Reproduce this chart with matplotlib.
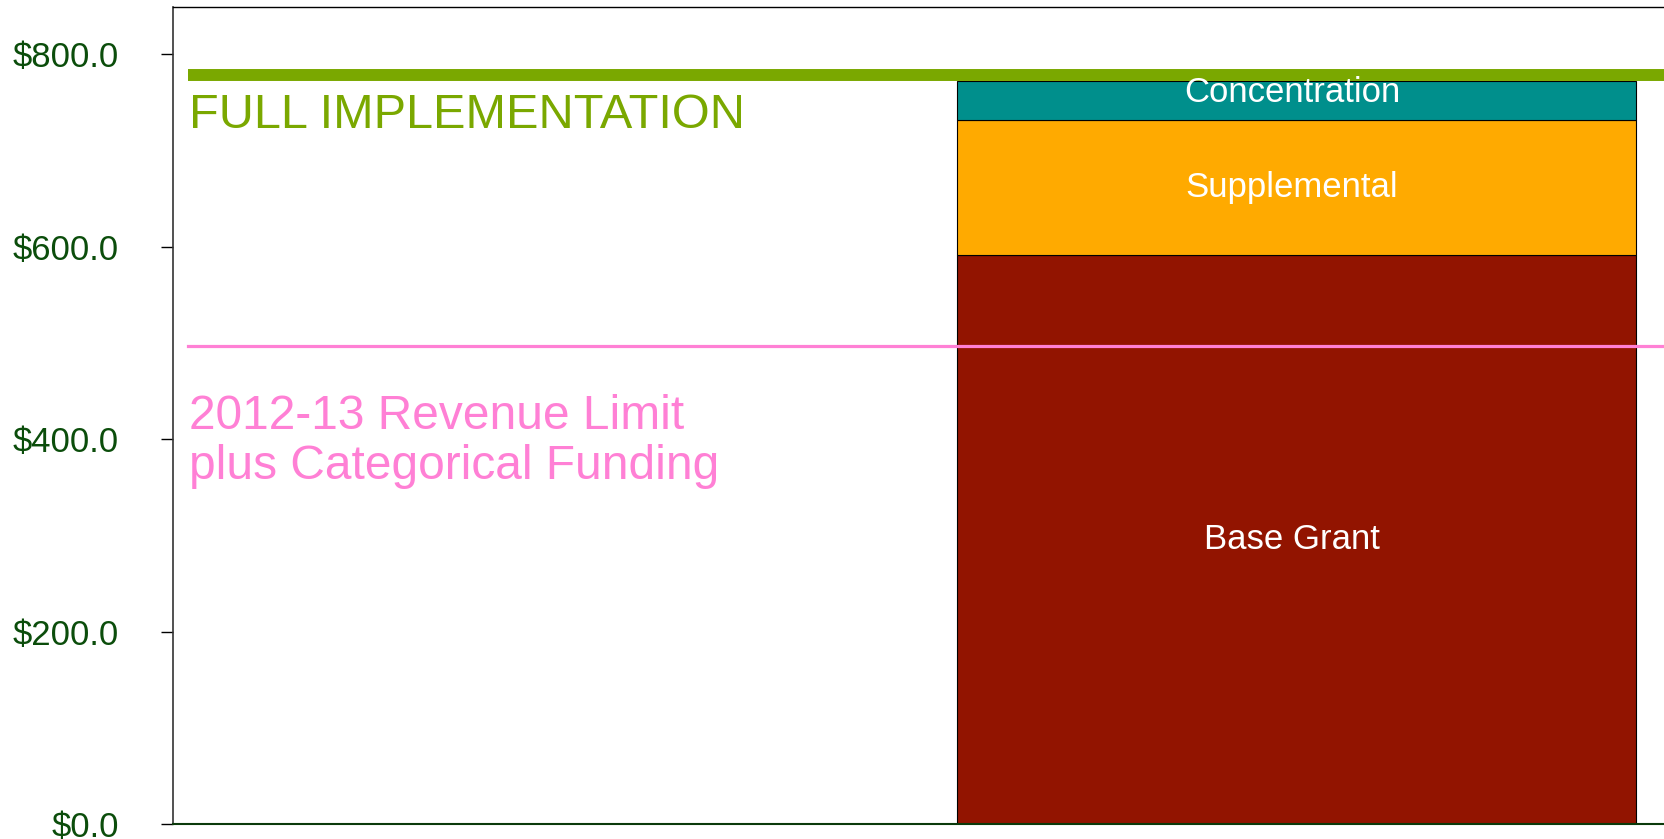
import matplotlib.pyplot as plt
from matplotlib.ticker import FuncFormatter

plt.rcParams['font.family'] = ['Liberation Sans', 'DejaVu Sans']

# data (in $ millions)
segments = ['Base Grant', 'Supplemental', 'Concentration']
values = [591, 141, 40]
colors = ['#921400', '#FFAA00', '#008F8C']
full_impl = 778
revenue_limit = 497
yticks = [0, 200, 400, 600, 800]

fig = plt.figure(figsize=(16.65, 8.39), dpi=100)
ax = fig.add_axes([173/1665, 1 - 824/839, 1 - 173/1665, (824 - 7)/839])

# single stacked bar, placed on the right half
xpos = 0.753
width = 0.4545
bottom = 0
for name, v, c in zip(segments, values, colors):
    ax.bar(xpos, v, width=width, bottom=bottom, color=c, edgecolor='black',
           linewidth=0.8, zorder=2)
    ymid = bottom + v / 2
    if name == 'Concentration':
        ymid = bottom + v * 0.7
    ax.text(xpos - 0.003, ymid, name, color='white', fontsize=25, ha='center',
            va='center', zorder=4)
    bottom += v

ax.plot([0.01, 1.02], [full_impl, full_impl], color='#7AA800', lw=8.6,
        solid_capstyle='butt', zorder=3)
ax.text(0.011, full_impl - 18, 'FULL IMPLEMENTATION', color='#7AA800',
        fontsize=35, va='top', ha='left')

ax.plot([0.01, 1.02], [revenue_limit, revenue_limit], color='#FF80D5', lw=2.3,
        zorder=3)
ax.text(0.011, revenue_limit - 50, '2012-13 Revenue Limit\nplus Categorical Funding',
        color='#FF80D5', fontsize=34.5, va='top', ha='left', linespacing=1.15)

ax.set_xlim(0, 1)
ax.set_ylim(0, 849)
ax.set_yticks(yticks)
ax.yaxis.set_major_formatter(FuncFormatter(lambda v, p: '${:.1f}'.format(v)))
ax.tick_params(axis='y', labelsize=25, labelcolor='#0B4D0B', length=9,
               width=1, pad=30, direction='out')
ax.set_xticks([])
ax.spines['left'].set_color('#333333')
ax.spines['left'].set_linewidth(1.2)
ax.spines['bottom'].set_color('#0B3A0B')
ax.spines['bottom'].set_linewidth(1.5)
ax.spines['top'].set_linewidth(1)
ax.spines['right'].set_visible(False)

fig.savefig('out.png', dpi=100)
